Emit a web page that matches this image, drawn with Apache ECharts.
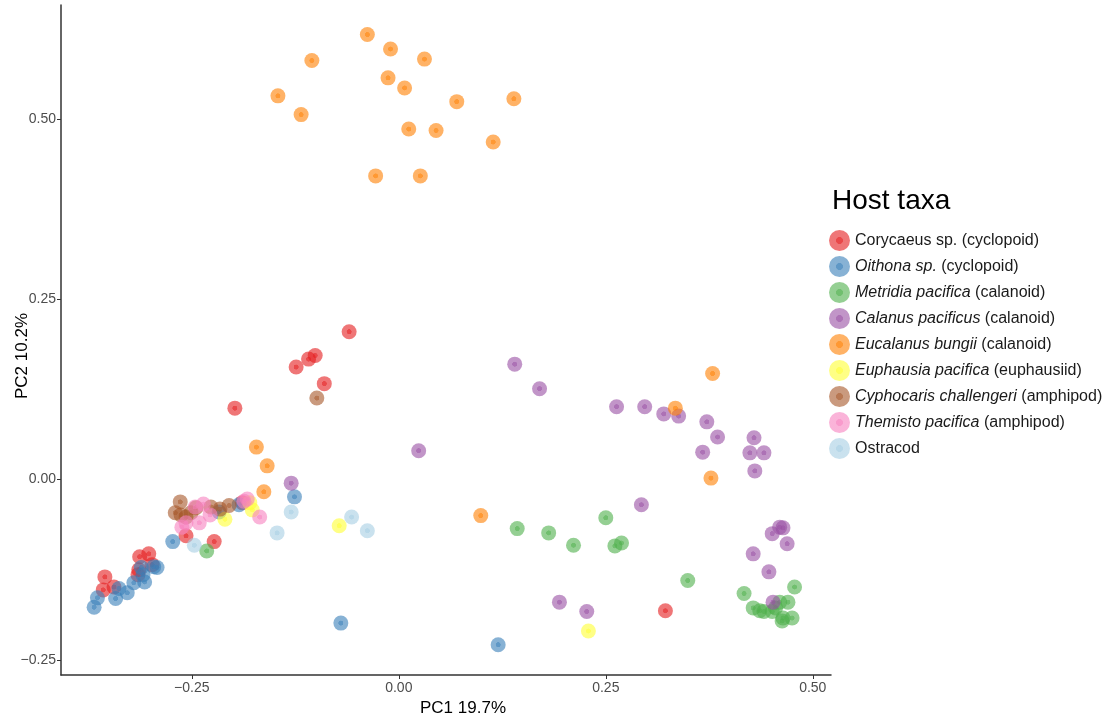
<!DOCTYPE html>
<html>
<head>
<meta charset="utf-8">
<script src="https://cdn.jsdelivr.net/npm/echarts@6/dist/echarts.min.js"></script>
<style>
  html, body { margin: 0; padding: 0; background: #fff; }
  #chart { width: 1112px; height: 723px; }
</style>
</head>
<body>
<div id="chart"></div>
<script>
// PCA scores (PC1, PC2) per host taxon
const corycaeus = [[-0.060,0.205],[-0.101,0.172],[-0.109,0.167],[-0.124,0.156],[-0.090,0.133],[-0.198,0.099],
  [0.322,-0.182],[-0.189,-0.032],[-0.223,-0.086],[-0.257,-0.078],[-0.298,-0.118],[-0.302,-0.103],[-0.313,-0.107],
  [-0.315,-0.132],[-0.314,-0.125],[-0.355,-0.135],[-0.357,-0.153],[-0.344,-0.149]];
const oithona = [[-0.368,-0.177],[-0.364,-0.164],[-0.342,-0.165],[-0.328,-0.157],[-0.320,-0.143],[-0.307,-0.142],
  [-0.311,-0.122],[-0.296,-0.121],[-0.292,-0.122],[-0.309,-0.132],[-0.338,-0.151],[-0.273,-0.086],[-0.217,-0.045],
  [-0.193,-0.035],[-0.126,-0.024],[-0.070,-0.199],[0.120,-0.229]];
const metridia = [[-0.232,-0.099],[0.143,-0.068],[0.181,-0.074],[0.211,-0.091],[0.250,-0.053],[0.261,-0.092],
  [0.269,-0.088],[0.349,-0.140],[0.417,-0.158],[0.478,-0.149],[0.428,-0.178],[0.436,-0.182],[0.441,-0.183],
  [0.451,-0.183],[0.455,-0.178],[0.460,-0.170],[0.470,-0.170],[0.464,-0.192],[0.475,-0.192],[0.463,-0.196]];
const calanus = [[-0.130,-0.005],[0.024,0.040],[0.140,0.160],[0.170,0.126],[0.263,0.101],[0.297,0.101],
  [0.320,0.091],[0.338,0.088],[0.372,0.080],[0.385,0.059],[0.367,0.038],[0.429,0.058],[0.424,0.037],
  [0.441,0.037],[0.430,0.012],[0.293,-0.035],[0.460,-0.066],[0.464,-0.067],[0.451,-0.075],[0.469,-0.089],
  [0.428,-0.103],[0.447,-0.128],[0.452,-0.170],[0.194,-0.170],[0.227,-0.183]];
const eucalanus = [[-0.038,0.617],[-0.010,0.597],[0.031,0.583],[-0.105,0.581],[-0.013,0.557],[0.007,0.543],
  [-0.146,0.532],[0.070,0.524],[0.139,0.528],[-0.118,0.506],[0.012,0.486],[0.045,0.484],[0.114,0.468],
  [-0.028,0.421],[0.026,0.421],[0.379,0.147],[0.334,0.099],[0.377,0.002],[-0.172,0.045],[-0.159,0.019],
  [-0.163,-0.017],[0.099,-0.050]];
const euphausia = [[-0.210,-0.055],[-0.180,-0.032],[-0.177,-0.042],[-0.072,-0.064],[0.229,-0.210]];
const cyphocaris = [[-0.099,0.113],[-0.264,-0.031],[-0.270,-0.046],[-0.263,-0.049],[-0.257,-0.052],
  [-0.251,-0.046],[-0.245,-0.039],[-0.227,-0.038],[-0.216,-0.041],[-0.205,-0.036]];
const themisto = [[-0.246,-0.038],[-0.236,-0.034],[-0.262,-0.066],[-0.257,-0.060],[-0.241,-0.060],
  [-0.228,-0.049],[-0.187,-0.030],[-0.183,-0.027],[-0.168,-0.052]];
const ostracod = [[-0.247,-0.091],[-0.147,-0.074],[-0.130,-0.045],[-0.057,-0.052],[-0.038,-0.071]];

const taxaNames = [
  'Corycaeus sp. (cyclopoid)', 'Oithona sp. (cyclopoid)', 'Metridia pacifica (calanoid)',
  'Calanus pacificus (calanoid)', 'Eucalanus bungii (calanoid)', 'Euphausia pacifica (euphausiid)',
  'Cyphocaris challengeri (amphipod)', 'Themisto pacifica (amphipod)', 'Ostracod'
];
// italic part of each legend label (scientific name), empty when set upright
const taxaItalic = ['', 'Oithona sp.', 'Metridia pacifica', 'Calanus pacificus', 'Eucalanus bungii',
  'Euphausia pacifica', 'Cyphocaris challengeri', 'Themisto pacifica', ''];
const taxaData = [corycaeus, oithona, metridia, calanus, eucalanus, euphausia, cyphocaris, themisto, ostracod];
const taxaColors = ['#E41A1C', '#377EB8', '#4DAF4A', '#984EA3', '#FF7F00', '#FFFF33', '#A65628', '#F781BF', '#A6CEE3'];

const xTicks = [-0.25, 0, 0.25, 0.5];
const yTicks = [-0.25, 0, 0.25, 0.5];

function withAlpha(hex, a) {
  const n = parseInt(hex.slice(1), 16);
  return 'rgba(' + ((n >> 16) & 255) + ',' + ((n >> 8) & 255) + ',' + (n & 255) + ',' + a + ')';
}
// translucent disc with a solid centre dot
function dotFill(hex) {
  return new echarts.graphic.RadialGradient(0.5, 0.5, 0.5, [
    { offset: 0, color: hex },
    { offset: 0.3, color: hex },
    { offset: 0.36, color: withAlpha(hex, 0.75) },
    { offset: 1, color: withAlpha(hex, 0.75) }
  ]);
}
function fmtTick(v) {
  const s = Math.abs(v).toFixed(2);
  return v < 0 ? '\u2212' + s : s;
}

const FONT = '"Liberation Sans", Arial, Helvetica, sans-serif';

const chart = echarts.init(document.getElementById('chart'), null, { renderer: 'canvas' });
chart.setOption({
  animation: false,
  backgroundColor: '#ffffff',
  textStyle: { fontFamily: FONT },
  title: {
    text: 'Host taxa',
    left: 827, top: 182,
    textStyle: { fontSize: 28, fontWeight: 'normal', color: '#000', fontFamily: FONT }
  },
  legend: {
    orient: 'vertical',
    left: 824, top: 225,
    itemWidth: 21, itemHeight: 21, itemGap: 5,
    icon: 'circle',
    selectedMode: false,
    data: taxaNames,
    formatter: function (name) {
      const i = taxaNames.indexOf(name);
      const it = taxaItalic[i];
      if (!it) return '{n|' + name + '}';
      return '{i|' + it + '}{n|' + name.slice(it.length) + '}';
    },
    textStyle: {
      fontSize: 16, color: '#1a1a1a', fontFamily: FONT,
      rich: {
        i: { fontSize: 16, fontStyle: 'italic', color: '#1a1a1a', fontFamily: FONT },
        n: { fontSize: 16, color: '#1a1a1a', fontFamily: FONT }
      }
    }
  },
  grid: { left: 61, right: 281, top: 5, bottom: 48, containLabel: false, outerBoundsMode: 'none' },
  xAxis: {
    type: 'value', min: -0.408, max: 0.522,
    name: 'PC1 19.7%', nameLocation: 'middle', nameGap: 25, nameMoveOverlap: false,
    nameTextStyle: { fontSize: 17, color: '#000', fontFamily: FONT, padding: [0, 0, 0, 34] },
    axisLine: { onZero: false, lineStyle: { color: '#333', width: 1.5 } },
    axisTick: { show: true, length: 4, customValues: xTicks, lineStyle: { color: '#333' } },
    axisLabel: { customValues: xTicks, formatter: fmtTick, fontSize: 14, color: '#4d4d4d', margin: 6, fontFamily: FONT },
    splitLine: { show: false }
  },
  yAxis: {
    type: 'value', min: -0.271, max: 0.658,
    name: 'PC2 10.2%', nameLocation: 'middle', nameGap: 30, nameRotate: 90, nameMoveOverlap: false,
    nameTextStyle: { fontSize: 17, color: '#000', fontFamily: FONT, padding: [0, 32, 0, 0] },
    axisLine: { show: true, onZero: false, lineStyle: { color: '#333', width: 1.5 } },
    axisTick: { show: true, length: 4, customValues: yTicks, lineStyle: { color: '#333' } },
    axisLabel: { customValues: yTicks, formatter: fmtTick, fontSize: 14, color: '#4d4d4d', margin: 5, fontFamily: FONT },
    splitLine: { show: false }
  },
  series: taxaNames.map(function (name, i) {
    return {
      name: name,
      type: 'scatter',
      data: taxaData[i],
      symbol: 'circle',
      symbolSize: 15,
      itemStyle: { color: dotFill(taxaColors[i]) },
      emphasis: { disabled: true }
    };
  })
});
</script>
</body>
</html>
